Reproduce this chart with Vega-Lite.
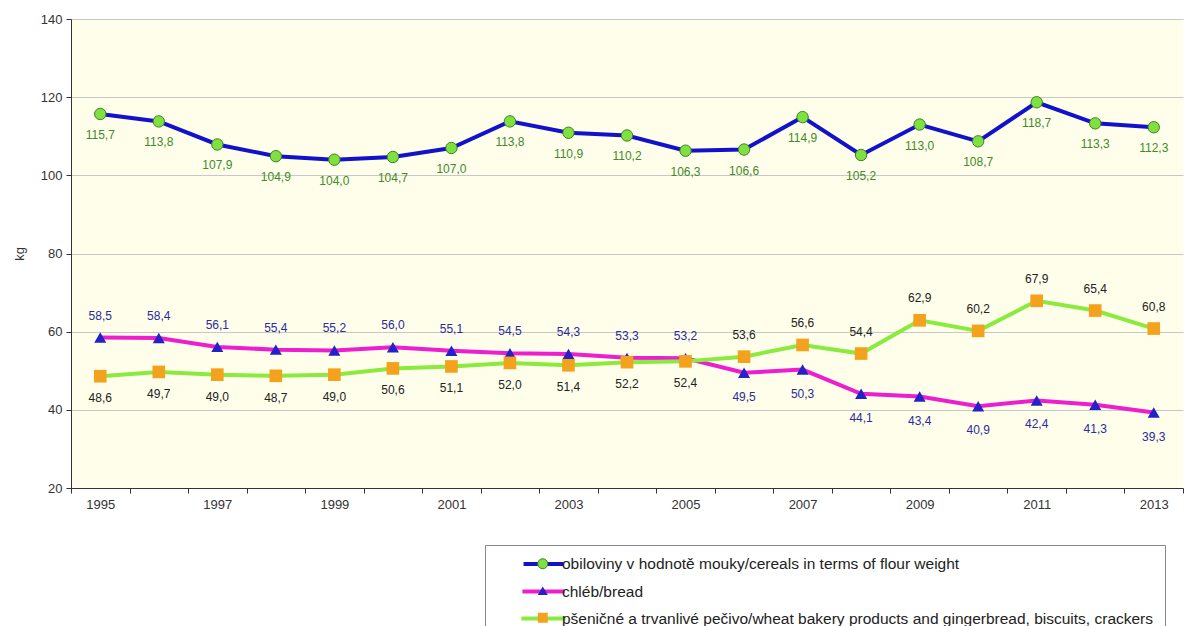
{
  "$schema": "https://vega.github.io/schema/vega-lite/v6.json",
  "width": 1112,
  "height": 469,
  "autosize": {"type": "none"},
  "padding": {"left": 71, "top": 19, "right": 10, "bottom": 138},
  "background": "white",
  "config": {
    "locale": {"number": {"decimal": ",", "thousands": " ", "grouping": [3], "currency": ["", ""]}},
    "font": "Liberation Sans",
    "view": {"fill": "#FEFEEA", "stroke": null}
  },
  "data": {
    "values": [
      {"year": 1995, "series": "obiloviny v hodnotě mouky/cereals in terms of flour weight", "kg": 115.7},
      {"year": 1996, "series": "obiloviny v hodnotě mouky/cereals in terms of flour weight", "kg": 113.8},
      {"year": 1997, "series": "obiloviny v hodnotě mouky/cereals in terms of flour weight", "kg": 107.9},
      {"year": 1998, "series": "obiloviny v hodnotě mouky/cereals in terms of flour weight", "kg": 104.9},
      {"year": 1999, "series": "obiloviny v hodnotě mouky/cereals in terms of flour weight", "kg": 104.0},
      {"year": 2000, "series": "obiloviny v hodnotě mouky/cereals in terms of flour weight", "kg": 104.7},
      {"year": 2001, "series": "obiloviny v hodnotě mouky/cereals in terms of flour weight", "kg": 107.0},
      {"year": 2002, "series": "obiloviny v hodnotě mouky/cereals in terms of flour weight", "kg": 113.8},
      {"year": 2003, "series": "obiloviny v hodnotě mouky/cereals in terms of flour weight", "kg": 110.9},
      {"year": 2004, "series": "obiloviny v hodnotě mouky/cereals in terms of flour weight", "kg": 110.2},
      {"year": 2005, "series": "obiloviny v hodnotě mouky/cereals in terms of flour weight", "kg": 106.3},
      {"year": 2006, "series": "obiloviny v hodnotě mouky/cereals in terms of flour weight", "kg": 106.6},
      {"year": 2007, "series": "obiloviny v hodnotě mouky/cereals in terms of flour weight", "kg": 114.9},
      {"year": 2008, "series": "obiloviny v hodnotě mouky/cereals in terms of flour weight", "kg": 105.2},
      {"year": 2009, "series": "obiloviny v hodnotě mouky/cereals in terms of flour weight", "kg": 113.0},
      {"year": 2010, "series": "obiloviny v hodnotě mouky/cereals in terms of flour weight", "kg": 108.7},
      {"year": 2011, "series": "obiloviny v hodnotě mouky/cereals in terms of flour weight", "kg": 118.7},
      {"year": 2012, "series": "obiloviny v hodnotě mouky/cereals in terms of flour weight", "kg": 113.3},
      {"year": 2013, "series": "obiloviny v hodnotě mouky/cereals in terms of flour weight", "kg": 112.3},
      {"year": 1995, "series": "chléb/bread", "kg": 58.5},
      {"year": 1996, "series": "chléb/bread", "kg": 58.4},
      {"year": 1997, "series": "chléb/bread", "kg": 56.1},
      {"year": 1998, "series": "chléb/bread", "kg": 55.4},
      {"year": 1999, "series": "chléb/bread", "kg": 55.2},
      {"year": 2000, "series": "chléb/bread", "kg": 56.0},
      {"year": 2001, "series": "chléb/bread", "kg": 55.1},
      {"year": 2002, "series": "chléb/bread", "kg": 54.5},
      {"year": 2003, "series": "chléb/bread", "kg": 54.3},
      {"year": 2004, "series": "chléb/bread", "kg": 53.3},
      {"year": 2005, "series": "chléb/bread", "kg": 53.2},
      {"year": 2006, "series": "chléb/bread", "kg": 49.5},
      {"year": 2007, "series": "chléb/bread", "kg": 50.3},
      {"year": 2008, "series": "chléb/bread", "kg": 44.1},
      {"year": 2009, "series": "chléb/bread", "kg": 43.4},
      {"year": 2010, "series": "chléb/bread", "kg": 40.9},
      {"year": 2011, "series": "chléb/bread", "kg": 42.4},
      {"year": 2012, "series": "chléb/bread", "kg": 41.3},
      {"year": 2013, "series": "chléb/bread", "kg": 39.3},
      {"year": 1995, "series": "pšeničné a trvanlivé pečivo/wheat bakery products and gingerbread, biscuits, crackers", "kg": 48.6},
      {"year": 1996, "series": "pšeničné a trvanlivé pečivo/wheat bakery products and gingerbread, biscuits, crackers", "kg": 49.7},
      {"year": 1997, "series": "pšeničné a trvanlivé pečivo/wheat bakery products and gingerbread, biscuits, crackers", "kg": 49.0},
      {"year": 1998, "series": "pšeničné a trvanlivé pečivo/wheat bakery products and gingerbread, biscuits, crackers", "kg": 48.7},
      {"year": 1999, "series": "pšeničné a trvanlivé pečivo/wheat bakery products and gingerbread, biscuits, crackers", "kg": 49.0},
      {"year": 2000, "series": "pšeničné a trvanlivé pečivo/wheat bakery products and gingerbread, biscuits, crackers", "kg": 50.6},
      {"year": 2001, "series": "pšeničné a trvanlivé pečivo/wheat bakery products and gingerbread, biscuits, crackers", "kg": 51.1},
      {"year": 2002, "series": "pšeničné a trvanlivé pečivo/wheat bakery products and gingerbread, biscuits, crackers", "kg": 52.0},
      {"year": 2003, "series": "pšeničné a trvanlivé pečivo/wheat bakery products and gingerbread, biscuits, crackers", "kg": 51.4},
      {"year": 2004, "series": "pšeničné a trvanlivé pečivo/wheat bakery products and gingerbread, biscuits, crackers", "kg": 52.2},
      {"year": 2005, "series": "pšeničné a trvanlivé pečivo/wheat bakery products and gingerbread, biscuits, crackers", "kg": 52.4},
      {"year": 2006, "series": "pšeničné a trvanlivé pečivo/wheat bakery products and gingerbread, biscuits, crackers", "kg": 53.6},
      {"year": 2007, "series": "pšeničné a trvanlivé pečivo/wheat bakery products and gingerbread, biscuits, crackers", "kg": 56.6},
      {"year": 2008, "series": "pšeničné a trvanlivé pečivo/wheat bakery products and gingerbread, biscuits, crackers", "kg": 54.4},
      {"year": 2009, "series": "pšeničné a trvanlivé pečivo/wheat bakery products and gingerbread, biscuits, crackers", "kg": 62.9},
      {"year": 2010, "series": "pšeničné a trvanlivé pečivo/wheat bakery products and gingerbread, biscuits, crackers", "kg": 60.2},
      {"year": 2011, "series": "pšeničné a trvanlivé pečivo/wheat bakery products and gingerbread, biscuits, crackers", "kg": 67.9},
      {"year": 2012, "series": "pšeničné a trvanlivé pečivo/wheat bakery products and gingerbread, biscuits, crackers", "kg": 65.4},
      {"year": 2013, "series": "pšeničné a trvanlivé pečivo/wheat bakery products and gingerbread, biscuits, crackers", "kg": 60.8}
    ]
  },
  "encoding": {
    "x": {
      "field": "year",
      "type": "ordinal",
      "bandPosition": 0.5,
      "scale": {"type": "band", "paddingInner": 0, "paddingOuter": 0},
      "axis": {
        "title": null,
        "labelExpr": "datum.value % 2 === 1 ? datum.label : ''",
        "tickBand": "extent",
        "labelAngle": 0,
        "labelFontSize": 13,
        "labelColor": "#333333",
        "labelPadding": 5,
        "domainColor": "#333333",
        "tickColor": "#333333",
        "tickSize": 5,
        "grid": false
      }
    },
    "y": {
      "field": "kg",
      "type": "quantitative",
      "scale": {"domain": [20, 140], "nice": false, "zero": false},
      "axis": {
        "values": [20, 40, 60, 80, 100, 120, 140],
        "title": "kg",
        "titleFontSize": 13,
        "titleFontWeight": "normal",
        "titleColor": "#333333",
        "titlePadding": 14,
        "labelFontSize": 13,
        "labelColor": "#333333",
        "labelPadding": 4,
        "gridColor": "#C8C8C8",
        "domainColor": "#333333",
        "tickColor": "#333333",
        "tickSize": 5
      }
    }
  },
  "layer": [
    {
      "mark": {"type": "line", "strokeWidth": 4},
      "encoding": {
        "stroke": {
          "field": "series",
          "type": "nominal",
          "scale": {
            "domain": ["obiloviny v hodnotě mouky/cereals in terms of flour weight", "chléb/bread", "pšeničné a trvanlivé pečivo/wheat bakery products and gingerbread, biscuits, crackers"],
            "range": ["#1212CC", "#EC1ECF", "#8BEA3E"]
          },
          "legend": {
            "title": null,
            "orient": "none",
            "legendX": 414,
            "legendY": 526,
            "direction": "vertical",
            "symbolType": "M-3.5,0H3.5",
            "symbolSize": 100,
            "symbolStrokeWidth": 4,
            "labelFontSize": 15.5,
            "labelColor": "#222222",
            "labelLimit": 1000,
            "labelOffset": 10,
            "symbolOffset": 39,
            "rowPadding": 10,
            "padding": 11,
            "strokeColor": "#888888"
          }
        }
      }
    },
    {
      "mark": {"type": "point", "filled": true, "opacity": 1, "strokeWidth": 1},
      "encoding": {
        "fill": {
          "field": "series",
          "type": "nominal",
          "sort": ["obiloviny v hodnotě mouky/cereals in terms of flour weight", "chléb/bread", "pšeničné a trvanlivé pečivo/wheat bakery products and gingerbread, biscuits, crackers"],
          "scale": {"range": ["#7FE13F", "#2222C6", "#F4A21E"]},
          "legend": null
        },
        "shape": {
          "field": "series",
          "type": "nominal",
          "sort": ["obiloviny v hodnotě mouky/cereals in terms of flour weight", "chléb/bread", "pšeničné a trvanlivé pečivo/wheat bakery products and gingerbread, biscuits, crackers"],
          "scale": {"range": ["circle", "triangle-up", "square"]},
          "legend": {
            "title": null,
            "orient": "none",
            "legendX": 414,
            "legendY": 526,
            "direction": "vertical",
            "symbolSize": 100,
            "symbolOpacity": 1,
            "symbolFillColor": {"expr": "scale('fill', datum.value)"},
            "symbolStrokeColor": {"expr": "indexof(datum.value, 'obiloviny') === 0 ? '#3E7F2A' : 'transparent'"},
            "symbolStrokeWidth": 1,
            "labelFontSize": 15.5,
            "labelOpacity": 0,
            "labelLimit": 1000,
            "labelOffset": 10,
            "symbolOffset": 39,
            "rowPadding": 10,
            "padding": 11
          }
        },
        "size": {
          "field": "series",
          "type": "nominal",
          "scale": {
            "domain": ["obiloviny v hodnotě mouky/cereals in terms of flour weight", "chléb/bread", "pšeničné a trvanlivé pečivo/wheat bakery products and gingerbread, biscuits, crackers"],
            "range": [130, 160, 190]
          },
          "legend": null
        },
        "stroke": {
          "condition": {"test": "datum.series === 'obiloviny v hodnotě mouky/cereals in terms of flour weight'", "value": "#3E7F2A"},
          "value": "transparent"
        }
      }
    },
    {
      "transform": [{"filter": "datum.series === 'obiloviny v hodnotě mouky/cereals in terms of flour weight'"}],
      "mark": {"type": "text", "dy": 21, "fontSize": 12, "color": "#3F8A2A"},
      "encoding": {"text": {"field": "kg", "type": "quantitative", "format": ".1f"}}
    },
    {
      "transform": [{"filter": "datum.series === 'chléb/bread' && datum.year <= 2005"}],
      "mark": {"type": "text", "dy": -22, "fontSize": 12, "color": "#2B2B9E"},
      "encoding": {"text": {"field": "kg", "type": "quantitative", "format": ".1f"}}
    },
    {
      "transform": [{"filter": "datum.series === 'chléb/bread' && datum.year > 2005"}],
      "mark": {"type": "text", "dy": 24, "fontSize": 12, "color": "#2B2B9E"},
      "encoding": {"text": {"field": "kg", "type": "quantitative", "format": ".1f"}}
    },
    {
      "transform": [{"filter": "datum.series !== 'chléb/bread' && datum.series !== 'obiloviny v hodnotě mouky/cereals in terms of flour weight' && datum.year <= 2005"}],
      "mark": {"type": "text", "dy": 22, "fontSize": 12, "color": "#222222"},
      "encoding": {"text": {"field": "kg", "type": "quantitative", "format": ".1f"}}
    },
    {
      "transform": [{"filter": "datum.series !== 'chléb/bread' && datum.series !== 'obiloviny v hodnotě mouky/cereals in terms of flour weight' && datum.year > 2005"}],
      "mark": {"type": "text", "dy": -22, "fontSize": 12, "color": "#222222"},
      "encoding": {"text": {"field": "kg", "type": "quantitative", "format": ".1f"}}
    }
  ]
}
